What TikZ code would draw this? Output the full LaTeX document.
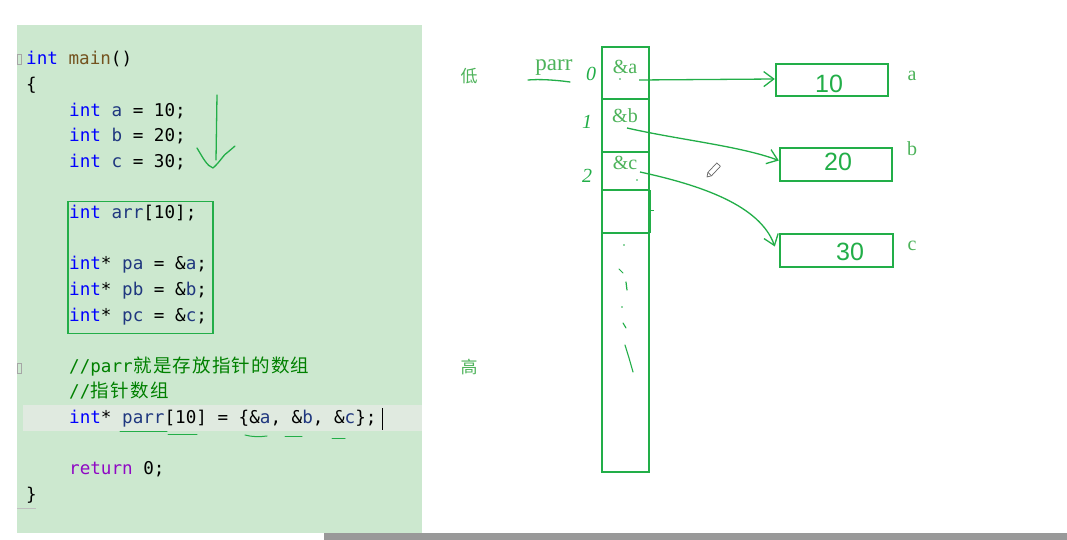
\documentclass[tikz,border=0pt]{standalone}
\usepackage{fontspec}
\setmonofont{DejaVu Sans Mono}
\newfontfamily\cjk{Noto Sans CJK SC}
\newfontfamily\serifl{Liberation Serif}
\newfontfamily\sansl{Liberation Sans}
\usetikzlibrary{arrows.meta}
\definecolor{panel}{HTML}{CCE8CF}
\definecolor{hl}{HTML}{E0EAE0}
\definecolor{kwc}{HTML}{0000FF}
\definecolor{fnc}{HTML}{74531F}
\definecolor{varc}{HTML}{1F377F}
\definecolor{cmtc}{HTML}{008000}
\definecolor{retc}{HTML}{8F08C4}
\definecolor{ink}{HTML}{22AE48}
\definecolor{inkt}{HTML}{4DB35A}
\definecolor{barc}{HTML}{999999}
\newcommand\ckw[1]{\textcolor{kwc}{#1}}
\newcommand\cfn[1]{\textcolor{fnc}{#1}}
\newcommand\cvr[1]{\textcolor{varc}{#1}}
\newcommand\ccm[1]{\textcolor{cmtc}{#1}}
\newcommand\crt[1]{\textcolor{retc}{#1}}
\newcommand\cc[1]{\makebox[19.7pt][c]{\cjk\fontsize{18.5}{20}\selectfont #1}}
\begin{document}
\begin{tikzpicture}[x=1pt,y=-1pt,
  code/.style={anchor=base west, inner sep=0pt, font=\ttfamily\fontsize{17.6}{20}\selectfont},
  cell/.style={draw=ink, line width=2.4pt, minimum width=47pt, inner sep=0pt},
  valbox/.style={draw=ink, line width=2.4pt, minimum width=112pt, minimum height=33pt, inner sep=0pt},
  lbl/.style={text=inkt, inner sep=0pt, font=\serifl\fontsize{20}{22}\selectfont},
  idx/.style={text=ink, inner sep=0pt, font=\serifl\itshape\fontsize{20}{22}\selectfont},
  hand/.style={text=ink, inner sep=0pt, font=\sansl\fontsize{25}{27}\selectfont},
  conn/.style={draw=ink, line width=1.3pt, -{Straight Barb[length=10pt,width=15pt]}},
  scrib/.style={draw=ink, line width=1.3pt, line cap=round, line join=round}]
\useasboundingbox (0,0) rectangle (1067,540);
\fill[white] (0,0) rectangle (1067,540);
% editor panel
\fill[panel] (17,25) rectangle (422,533);
\fill[hl] (23,405) rectangle (422,431);
\fill[barc] (324,533) rectangle (1067,540);
% fold markers
\draw[gray!70, line width=0.6pt] (17,54) rectangle (21,64);
\draw[gray!70, line width=0.6pt] (17,363) rectangle (21,373);
\draw[gray!50, line width=0.8pt] (17,508) -- (36,508);
% code lines
\node[code] (l1) at (26,65) {\ckw{int} \cfn{main}()};
\node[code] (l2) at (26,90.6) {\{};
\node[code] (l3) at (69,116.2) {\ckw{int} \cvr{a} = 10;};
\node[code] (l4) at (69,141.8) {\ckw{int} \cvr{b} = 20;};
\node[code] (l5) at (69,167.4) {\ckw{int} \cvr{c} = 30;};
\node[code] (l6) at (69,218.6) {\ckw{int} \cvr{arr}[10];};
\node[code] (l7) at (69,269.8) {\ckw{int}* \cvr{pa} = \&\cvr{a};};
\node[code] (l8) at (69,295.4) {\ckw{int}* \cvr{pb} = \&\cvr{b};};
\node[code] (l9) at (69,321) {\ckw{int}* \cvr{pc} = \&\cvr{c};};
\node[code] (l10) at (69,372.2) {\ccm{//parr\cc{就}\cc{是}\cc{存}\cc{放}\cc{指}\cc{针}\cc{的}\cc{数}\cc{组}}};
\node[code] (l11) at (69,397.8) {\ccm{//\cc{指}\cc{针}\cc{数}\cc{组}}};
\node[code] (l12) at (69,423.4) {\ckw{int}* \cvr{parr}[10] = \{\&\cvr{a}, \&\cvr{b}, \&\cvr{c}\};};
\node[code] (l13) at (69,474.6) {\crt{return} 0;};
\node[code] (l14) at (26,500.2) {\}};
% cursor
\draw[black, line width=1pt] (382,408) -- (382,430);
% group box in code
\node[draw=ink, line width=1.8pt, minimum width=145pt, minimum height=132pt, inner sep=0pt] (grp) at (140.5,267.5) {};
% hand arrow down
\draw[scrib] (217,95) -- (216,160);
\draw[scrib] (197,148) .. controls (203,158) and (207,166) .. (213,168) .. controls (220,162) and (224,154) .. (228,152) -- (235,146);
% underlines
\draw[scrib, line width=1pt] (120,431) -- (167,431);
\draw[scrib, line width=1pt] (168,434) -- (197,434);
\draw[scrib, line width=1pt] (245,435) .. controls (252,437) and (260,437) .. (267,436);
\draw[scrib, line width=1pt] (285,436) -- (302,436);
\draw[scrib, line width=1pt] (332,438) -- (345,438);
% right side labels
\node[text=inkt, inner sep=0pt, font=\cjk\fontsize{17}{19}\selectfont] (low) at (469,76) {低};
\node[text=inkt, inner sep=0pt, font=\cjk\fontsize{17}{19}\selectfont] (high) at (469,367) {高};
\node[lbl, font=\serifl\fontsize{23}{25}\selectfont] (parr) at (554,68) {parr};
\draw[scrib] (528,80) .. controls (540,79) and (552,80) .. (562,81) -- (570,82);
\node[idx] (i0) at (591,74) {0};
\node[idx] (i1) at (587,122) {1};
\node[idx] (i2) at (587,176) {2};
% pointer array column
\node[cell, minimum height=52pt] (c0) at (625.5,73) {};
\node[cell, minimum height=53pt] (c1) at (625.5,125.5) {};
\node[cell, minimum height=38pt] (c2) at (625.5,171) {};
\node[cell, minimum height=43pt] (c3) at (625.5,211.5) {};
\node[cell, minimum height=239pt] (crest) at (625.5,352.5) {};
\draw[ink, line width=1.2pt] (650.5,190) -- (650.5,233);
\draw[ink, line width=0.8pt] (651,210) -- (654,210);
\node[lbl] (ta) at (625,67) {\&a};
\node[lbl] (tb) at (625,116) {\&b};
\node[lbl] (tc) at (625,163) {\&c};
% small marks
\fill[ink] (620,79) circle (0.8);
\fill[ink] (637,180) circle (0.8);
\fill[ink] (624,245) circle (0.8);
\draw[scrib, line width=0.9pt] (619,269) -- (623,273);
\draw[scrib, line width=1.2pt] (626,282) -- (627,290);
\fill[ink] (622,307) circle (0.8);
\draw[scrib, line width=1.1pt] (623,323) -- (626,328);
\draw[scrib, line width=1.1pt] (625,345) -- (629,358) -- (633,372);
% value boxes
\node[valbox, minimum height=32pt] (ba) at (832,80) {};
\node[valbox] (bb) at (836,164.5) {};
\node[valbox, minimum width=113pt] (bc) at (836.5,250.5) {};
\node[hand] (va) at (829,84) {10};
\node[hand] (vb) at (838,162) {20};
\node[hand] (vc) at (850,252) {30};
\node[lbl] (na) at (912,76) {a};
\node[lbl] (nb) at (912,149) {b};
\node[lbl] (nc) at (912,246) {c};
% connectors
\coordinate (sa) at (639,80);
\coordinate (sb) at (627,128);
\coordinate (sc) at (640,172);
\draw[conn] (sa) -- ([yshift=1pt]ba.west);
\draw[conn] (sb) .. controls (680,140) and (740,146) .. ([yshift=4pt]bb.west);
\draw[conn] (sc) .. controls (700,185) and (760,205) .. ([xshift=-4pt,yshift=4pt]bc.west);
% pencil cursor
\draw[gray!80!black, fill=white, line width=0.7pt, line join=round] (707,177) -- (711.5,175.8) -- (720.4,166.3) -- (716.8,162.9) -- (707.9,172.4) -- cycle;
\draw[gray!80!black, line width=0.7pt] (707.9,172.4) -- (711.5,175.8);
\end{tikzpicture}
\end{document}
